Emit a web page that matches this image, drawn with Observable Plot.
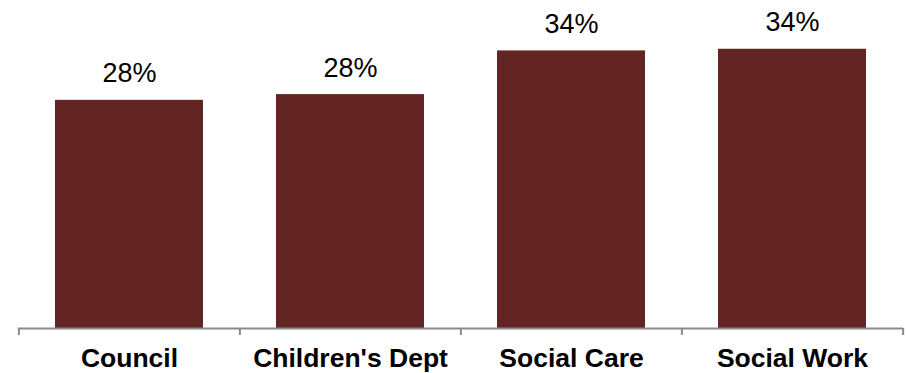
<!DOCTYPE html>
<html>
<head>
<meta charset="utf-8">
<script src="https://cdn.jsdelivr.net/npm/d3@7"></script>
<script src="https://cdn.jsdelivr.net/npm/@observablehq/plot@0.6"></script>
<style>
  html, body { margin: 0; padding: 0; background: #ffffff; }
</style>
</head>
<body>
<div id="chart"></div>
<script>
const categories = ["Council", "Children's Dept", "Social Care", "Social Work"];
const values = [27.7, 28.4, 33.7, 33.9];
const valueLabels = ["28%", "28%", "34%", "34%"];

const data = categories.map((c, i) => ({cat: c, value: values[i], label: valueLabels[i]}));

const W = 906, H = 373, ML = 18, MR = 3;
const step = (W - ML - MR) / categories.length;

const chart = Plot.plot({
  width: W,
  height: H,
  marginLeft: ML,
  marginRight: MR,
  marginTop: 15,
  marginBottom: 45,
  style: {fontFamily: "'Liberation Sans', Arial, sans-serif", background: "#ffffff", color: "#000000"},
  x: {domain: categories, paddingInner: 0.33, paddingOuter: 0.165, label: null},
  y: {domain: [0, 38], axis: null},
  marks: [
    Plot.barY(data, {x: "cat", y: "value", fill: "#632523"}),
    Plot.text(data, {x: "cat", y: "value", text: "label", lineAnchor: "bottom", dy: -18, fontSize: 27, fill: "#000000"}),
    Plot.ruleY([0], {stroke: "#898989", strokeWidth: 2}),
    Plot.axisX({ticks: categories, tickSize: 7, tickFormat: () => "", stroke: "#898989", strokeWidth: 2, dx: -step / 2, label: null}),
    Plot.axisX({ticks: categories.slice(-1), tickSize: 7, tickFormat: () => "", stroke: "#898989", strokeWidth: 2, dx: step / 2, label: null}),
    Plot.axisX({tickSize: 0, tickPadding: 20, fontSize: 26.5, fontWeight: "bold", fill: "#000000", label: null})
  ]
});
document.getElementById("chart").appendChild(chart);
</script>
</body>
</html>
